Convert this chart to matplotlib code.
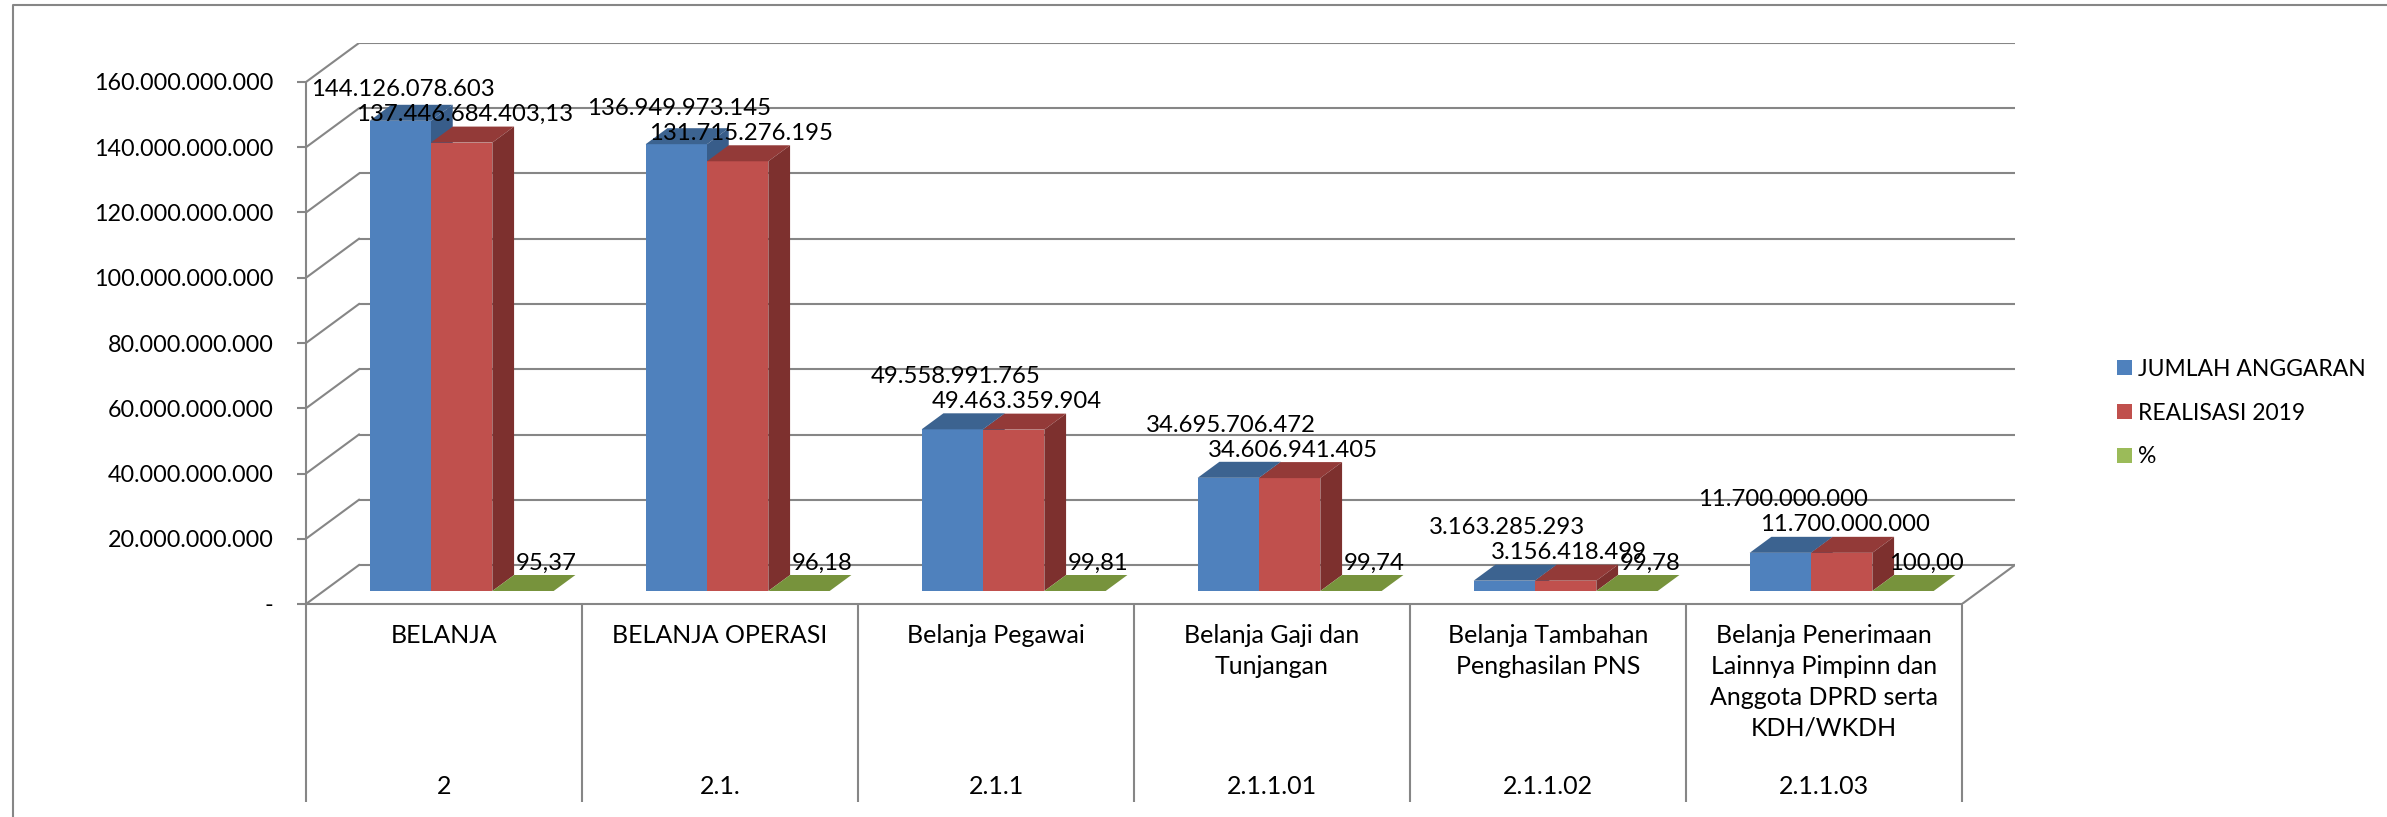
import matplotlib
matplotlib.use("Agg")
import matplotlib.pyplot as plt
from matplotlib.patches import Polygon, Patch
from matplotlib.lines import Line2D

plt.rcParams["font.family"] = ["Lato", "DejaVu Sans"]

# ---------------- data ----------------
categories = [
    "BELANJA",
    "BELANJA OPERASI",
    "Belanja Pegawai",
    "Belanja Gaji dan\nTunjangan",
    "Belanja Tambahan\nPenghasilan PNS",
    "Belanja Penerimaan\nLainnya Pimpinn dan\nAnggota DPRD serta\nKDH/WKDH",
]
codes = ["2", "2.1.", "2.1.1", "2.1.1.01", "2.1.1.02", "2.1.1.03"]
anggaran = [144126078603, 136949973145, 49558991765, 34695706472, 3163285293, 11700000000]
realisasi = [137446684403.13, 131715276195, 49463359904, 34606941405, 3156418499, 11700000000]
persen = [95.37, 96.18, 99.81, 99.74, 99.78, 100.00]
series_names = ["JUMLAH ANGGARAN", "REALISASI 2019", "%"]
yticks = [0, 20e9, 40e9, 60e9, 80e9, 100e9, 120e9, 140e9, 160e9]


def fmt_id(v, dec):
    s = f"{v:,.{dec}f}"
    return s.replace(",", "X").replace(".", ",").replace("X", ".")


ytick_labels = ["-" if t == 0 else fmt_id(t, 0) for t in yticks]
lab_anggaran = [fmt_id(v, 2 if abs(v - round(v)) > 1e-6 else 0) for v in anggaran]
lab_realisasi = [fmt_id(v, 2 if abs(v - round(v)) > 1e-6 else 0) for v in realisasi]
lab_persen = [fmt_id(v, 2) for v in persen]

# ---------------- style / layout ----------------
W, H = 2387, 817
X0, XB, Y0, YT = 306, 2015, 604, 43        # front-left x, back-right x, front zero y, back top y (px)
DXPX, DYPX = 53, 39                          # depth offset of the 3D box (px)
CATPX = (XB - DXPX - X0) / 6
PPV = (Y0 - 82) / 160e9                      # px per value unit
DX = DXPX / CATPX
DY = DYPX / PPV
GRID = "#868686"
FS_TICK = 16.8
FS_LAB = 17.2
FS_CAT = 18.0
FS_LEG = 16.5

front_c = ["#4F81BD", "#C0504D", "#9BBB59"]
top_c = ["#3C6390", "#933A38", "#77933C"]
side_c = ["#385D8A", "#7D302E", "#6B8535"]

fig = plt.figure(figsize=(W / 100, H / 100), dpi=100)
ax = fig.add_axes([X0 / W, (H - Y0) / H, (XB - X0) / W, (Y0 - YT) / H])
ax.set_xlim(0, 6 + DX)
ax.set_ylim(0, 160e9 + DY)
ax.patch.set_alpha(0)

# spines / axes
for s in ["top", "right"]:
    ax.spines[s].set_visible(False)
ax.spines["left"].set_bounds(0, 160e9)
ax.spines["bottom"].set_bounds(0, 6)
for s in ["left", "bottom"]:
    ax.spines[s].set_color(GRID)
    ax.spines[s].set_linewidth(1.5)
ax.set_xticks([])
ax.set_yticks(yticks, ytick_labels)
ax.tick_params(axis="y", direction="out", length=6.5, width=1.5, color=GRID,
               pad=17, labelsize=FS_TICK)

# walls: back-wall gridlines, left-wall slants, floor right edge
ax.hlines([t + DY for t in yticks], DX, 6 + DX, color=GRID, lw=1.5, zorder=1)
for t in yticks:
    ax.plot([0, DX], [t, t + DY], color=GRID, lw=1.5, zorder=1)
ax.plot([6, 6 + DX], [0, DY], color=GRID, lw=1.5, zorder=1)

# bars
w = 1 / 4.5
d0, d1 = 13 / 39, 29 / 39
dd = d1 - d0
series = [anggaran, realisasi, persen]
labels = [lab_anggaran, lab_realisasi, lab_persen]
for i in range(6):
    vals = [series[s][i] for s in range(3)]
    for s in range(3):
        v = vals[s]
        z = 3 + (i * 3 + s) * 0.01
        xf = i + 0.75 * w + s * w + d0 * DX
        yb = d0 * DY
        top = yb + v
        ax.bar(xf, v, width=w, bottom=yb, align="edge", color=front_c[s], lw=0, zorder=z)
        ax.add_patch(Polygon([(xf, top), (xf + w, top), (xf + w + dd * DX, top + dd * DY),
                              (xf + dd * DX, top + dd * DY)], closed=True,
                             facecolor=top_c[s], lw=0, zorder=z))
        ax.add_patch(Polygon([(xf + w, yb), (xf + w + dd * DX, yb + dd * DY),
                              (xf + w + dd * DX, top + dd * DY), (xf + w, top)], closed=True,
                             facecolor=side_c[s], lw=0, zorder=z))
    # data labels
    for s in range(3):
        v = vals[s]
        xc = i + 0.75 * w + s * w + d0 * DX + w / 2
        yt = d0 * DY + v
        if s == 0:
            off_y = max(28, (vals[1] - vals[0]) * PPV + 28 + 25)
            off_x = 3
        elif s == 1:
            off_y, off_x = 28, 3
        else:
            off_y, off_x = 28, 23
        ax.annotate(labels[s][i], (xc, yt), xytext=(off_x, off_y), textcoords="offset pixels",
                    ha="center", va="center", fontsize=FS_LAB, zorder=10)

# category table under the floor
tab_bottom = -(802 - Y0) / PPV
ax.vlines(range(7), tab_bottom, 0, color=GRID, lw=1.5, clip_on=False)
for i in range(6):
    ax.text(i + 0.5, -(624 - Y0) / PPV, categories[i], ha="center", va="top",
            fontsize=FS_CAT, linespacing=1.42, clip_on=False)
    ax.text(i + 0.5, -(787 - Y0) / PPV, codes[i], ha="center", va="center",
            fontsize=FS_CAT, clip_on=False)

# legend
handles = [Patch(facecolor=c, edgecolor="none") for c in front_c]
fig.legend(handles, series_names, loc="center left", bbox_to_anchor=(2117 / W, 1 - 413 / H),
           frameon=False, fontsize=FS_LEG, handlelength=0.66, handleheight=0.66,
           handletextpad=0.27, labelspacing=1.0, borderpad=0, borderaxespad=0)

# chart area border (left and top visible)
fig.add_artist(Line2D([13 / W, 13 / W, 1], [0, 1 - 5 / H, 1 - 5 / H],
                      transform=fig.transFigure, color=GRID, lw=1.5))

fig.savefig("out.png", dpi=100)
